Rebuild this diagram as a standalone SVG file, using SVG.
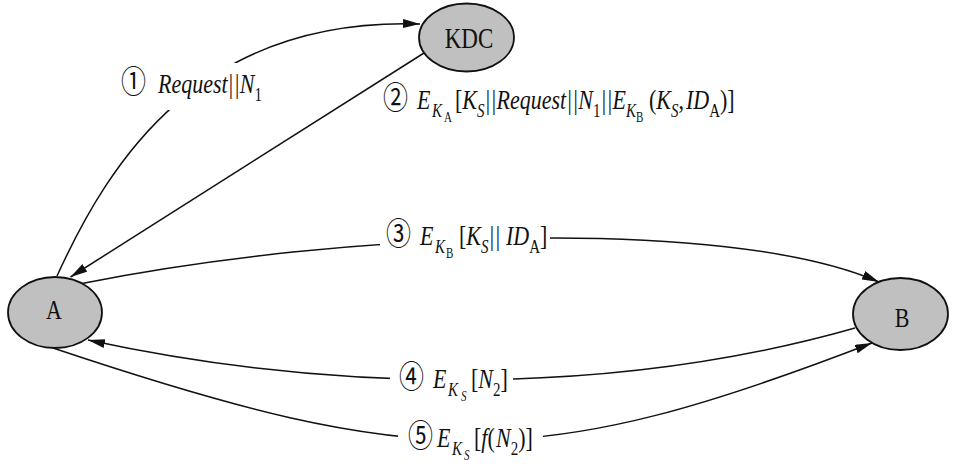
<svg xmlns="http://www.w3.org/2000/svg" width="960" height="469" viewBox="0 0 960 469">
<style>
.node ellipse{fill:#c0c0c0;stroke:#111;stroke-width:1.8}
.nl{font-family:"Liberation Serif","Times New Roman",serif;font-size:23px;fill:#111;text-anchor:middle}
.edge{fill:none;stroke:#111;stroke-width:1.5}
.lbl{font-family:"Liberation Serif","Times New Roman",serif;font-size:22px;fill:#111}
.cn{font-family:"Noto Sans CJK SC","DejaVu Sans",sans-serif;font-size:25px;font-style:normal}
.it{font-style:italic}
.s{font-size:15px}
.ss{font-size:11px;font-style:normal}
.ssi{font-size:11px;font-style:italic}
</style>
<defs>
<marker id="arr" markerUnits="userSpaceOnUse" markerWidth="18" markerHeight="10" refX="17" refY="4.5" orient="auto">
<path d="M0,0 L17,4.5 L0,9 z" fill="#111"/>
</marker>
<mask id="gaps" maskUnits="userSpaceOnUse" x="0" y="0" width="960" height="469">
<rect x="0" y="0" width="960" height="469" fill="white"/>
<rect x="110" y="63" width="160" height="47" fill="black"/>
<rect x="380" y="225" width="170" height="35" fill="black"/>
<rect x="390" y="362" width="123" height="35" fill="black"/>
<rect x="398" y="420" width="145" height="38" fill="black"/>
</mask>
</defs>
<rect x="0" y="0" width="960" height="469" fill="#fff"/>
<g id="connectors" mask="url(#gaps)">
<path id="e1" class="edge" d="M57,276 C110,160 200,17 420,24" marker-end="url(#arr)"/>
<path id="e2" class="edge" d="M424,53 L70.5,277" marker-end="url(#arr)"/>
<path id="e3" class="edge" d="M82,283.5 C338,232 725,215 879,282" marker-end="url(#arr)"/>
<path id="e4" class="edge" d="M855,328 C620,395 342,395 88,340" marker-end="url(#arr)"/>
<path id="e5" class="edge" d="M53,348 C423,472 537,472 872,343" marker-end="url(#arr)"/>
</g>
<g id="labels">
<text class="lbl" transform="translate(0,93) scale(1,1.26)"><tspan class="cn" x="121">①</tspan><tspan class="it" x="158">Request||N</tspan><tspan class="s" y="6">1</tspan></text>
<text class="lbl" transform="translate(0,109) scale(1,1.26)"><tspan class="cn" x="383">②</tspan><tspan class="it" x="417" y="0">E</tspan><tspan class="it s" x="432" y="6">K</tspan><tspan class="ss" x="444" y="10">A</tspan><tspan x="455" y="0">[</tspan><tspan class="it">K</tspan><tspan class="it s" y="6">S</tspan><tspan class="it" y="0">||Request||N</tspan><tspan class="s" y="6">1</tspan><tspan class="it" y="0">||E</tspan><tspan class="it s" y="6">K</tspan><tspan class="ss" y="10">B</tspan><tspan x="649" y="0">(</tspan><tspan class="it">K</tspan><tspan class="it s" y="6">S</tspan><tspan y="0">,</tspan><tspan class="it" x="686">ID</tspan><tspan class="s" y="6">A</tspan><tspan y="0">)]</tspan></text>
<text class="lbl" transform="translate(0,245) scale(1,1.26)"><tspan class="cn" x="386">③</tspan><tspan class="it" x="420" y="0">E</tspan><tspan class="it s" x="435" y="6">K</tspan><tspan class="ss" x="446" y="10">B</tspan><tspan x="459" y="0">[</tspan><tspan class="it">K</tspan><tspan class="it s" y="6">S</tspan><tspan class="it" y="0">||</tspan><tspan class="it" x="506">ID</tspan><tspan class="s" y="6">A</tspan><tspan y="0">]</tspan></text>
<text class="lbl" transform="translate(0,388) scale(1,1.26)"><tspan class="cn" x="399">④</tspan><tspan class="it" x="433" y="0">E</tspan><tspan class="it s" x="448" y="6">K</tspan><tspan class="ssi" x="461" y="10">S</tspan><tspan x="471" y="0">[</tspan><tspan class="it">N</tspan><tspan class="s" y="6">2</tspan><tspan y="0">]</tspan></text>
<text class="lbl" transform="translate(0,447) scale(1,1.26)"><tspan class="cn" x="408">⑤</tspan><tspan class="it" x="437" y="0">E</tspan><tspan class="it s" x="452" y="6">K</tspan><tspan class="ssi" x="464" y="10">S</tspan><tspan x="474" y="0">[</tspan><tspan class="it">f</tspan><tspan>(</tspan><tspan class="it" x="496">N</tspan><tspan class="s" y="6">2</tspan><tspan y="0">)]</tspan></text>
</g>
<g id="KDC" class="node"><ellipse cx="466.5" cy="37.5" rx="47.5" ry="34"/><text class="nl" transform="translate(469,48) scale(1,1.26)">KDC</text></g>
<g id="A" class="node"><ellipse cx="55" cy="312.5" rx="47" ry="35.5"/><text class="nl" transform="translate(54,319) scale(1,1.26)" style="font-size:22px">A</text></g>
<g id="B" class="node"><ellipse cx="900.5" cy="314" rx="47.5" ry="36"/><text class="nl" transform="translate(902,327) scale(1,1.26)" style="font-size:22px">B</text></g>
</svg>
